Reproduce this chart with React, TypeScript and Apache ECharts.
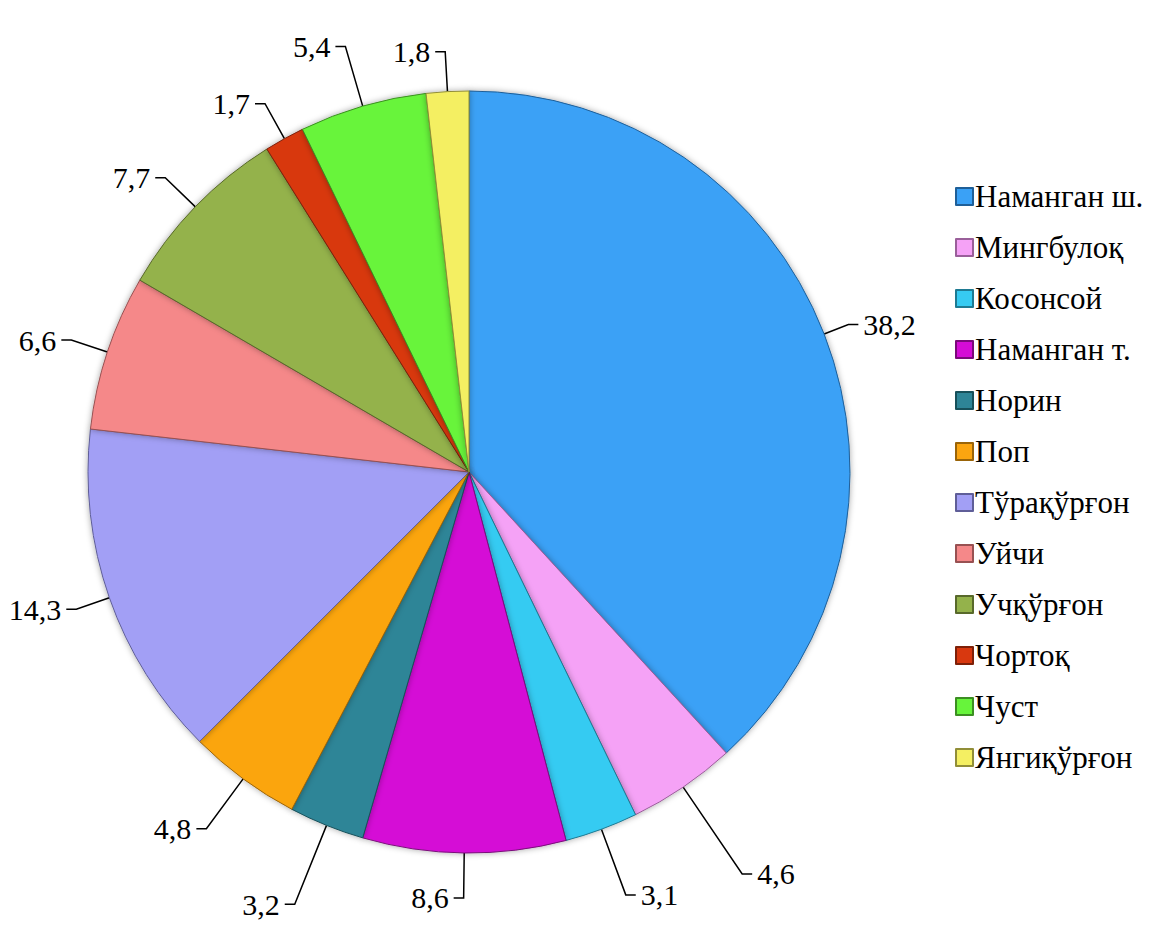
import React, { useEffect, useRef } from "react";
import * as echarts from "echarts";

const categories = [
  "Наманган ш.",
  "Мингбулоқ",
  "Косонсой",
  "Наманган т.",
  "Норин",
  "Поп",
  "Тўрақўрғон",
  "Уйчи",
  "Учқўрғон",
  "Чортоқ",
  "Чуст",
  "Янгиқўрғон",
];

const values = [38.2, 4.6, 3.1, 8.6, 3.2, 4.8, 14.3, 6.6, 7.7, 1.7, 5.4, 1.8];

const colors = [
  "#3AA1F6",
  "#F5A2F6",
  "#36CBF2",
  "#D50CD6",
  "#2E8597",
  "#FBA510",
  "#A29FF5",
  "#F58889",
  "#94B24B",
  "#D8380F",
  "#67F43B",
  "#F4EF62",
];

const borderColors = [
  "#1F5F98",
  "#9A5F9A",
  "#1E7A92",
  "#7A0A7A",
  "#17505A",
  "#9A6408",
  "#5F5E98",
  "#985152",
  "#58692B",
  "#7E2008",
  "#3C8F22",
  "#918E38",
];

// leader-line lengths (styling), one per slice
const leaderLengths = [26, 105, 70, 45, 85, 62, 35, 38, 42, 40, 62, 40];

export default function App() {
  const ref = useRef<HTMLDivElement>(null);
  useEffect(() => {
    if (!ref.current) return;
    document.body.style.fontFamily = "'Liberation Serif', serif";
    const chart = echarts.init(ref.current, null, { renderer: "svg" });
    const font = "Liberation Serif";
    chart.setOption({
      animation: false,
      backgroundColor: "#ffffff",
      textStyle: { fontFamily: font },
      legend: {
        orient: "vertical",
        left: 950,
        top: 175,
        itemWidth: 17,
        itemHeight: 17,
        itemGap: 18,
        icon: "rect",
        textStyle: {
          fontFamily: font,
          fontSize: 31,
          color: "#000",
          lineHeight: 33,
          padding: [0, 0, 0, -3],
        },
        data: categories,
      },
      series: [
        {
          type: "pie",
          center: [469, 472],
          radius: 381,
          startAngle: 90,
          clockwise: true,
          avoidLabelOverlap: false,
          data: categories.map((name, i) => ({
            name,
            value: values[i],
            itemStyle: {
              color: colors[i],
              borderColor: borderColors[i],
              borderWidth: 1,
            },
            labelLine: { length: leaderLengths[i] },
          })),
          itemStyle: {
            shadowBlur: 6,
            shadowColor: "rgba(0,0,0,0.35)",
          },
          label: {
            show: true,
            position: "outside",
            overflow: "none",
            formatter: (p: any) => String(p.value).replace(".", ","),
            fontFamily: font,
            fontSize: 30,
            color: "#000",
          },
          labelLine: {
            show: true,
            length: 45,
            length2: 10,
            lineStyle: { color: "#000", width: 1.5 },
          },
        },
      ],
    });
    return () => chart.dispose();
  }, []);
  return (
    <div
      ref={ref}
      style={{ position: "fixed", left: 0, top: 0, width: 1149, height: 937 }}
    />
  );
}
